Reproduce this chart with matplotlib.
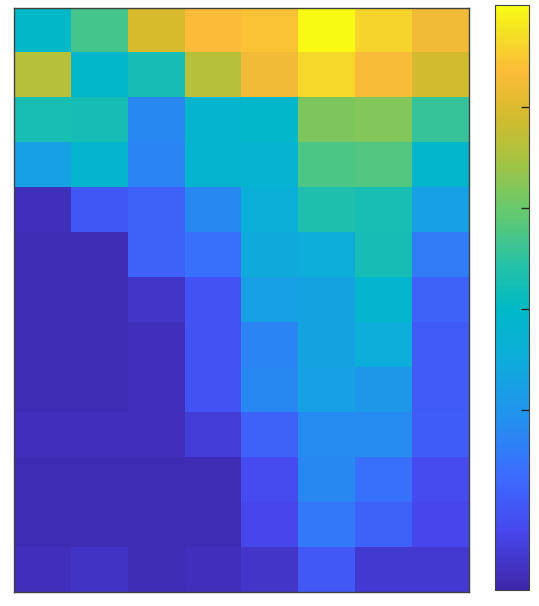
import numpy as np
import matplotlib
matplotlib.use("Agg")
import matplotlib.pyplot as plt
from matplotlib.colors import LinearSegmentedColormap

# cell values, 13 rows (top to bottom) x 8 columns
row_vals = [
    [1.99, 2.69, 3.96, 4.36, 4.42, 5.00, 4.60, 4.25],
    [3.61, 1.94, 2.23, 3.61, 4.25, 4.65, 4.31, 3.90],
    [2.28, 2.23, 0.78, 1.82, 1.94, 3.15, 3.21, 2.57],
    [1.24, 1.82, 0.72, 1.82, 1.76, 2.75, 2.80, 1.88],
    [-0.61, 0.05, 0.20, 0.78, 1.59, 2.34, 2.28, 1.24],
    [-0.66, -0.66, 0.20, 0.43, 1.47, 1.53, 2.23, 0.61],
    [-0.66, -0.66, -0.49, -0.03, 1.24, 1.30, 1.82, 0.20],
    [-0.66, -0.66, -0.61, -0.03, 0.72, 1.30, 1.53, 0.09],
    [-0.66, -0.66, -0.61, -0.03, 0.78, 1.24, 1.07, 0.09],
    [-0.61, -0.61, -0.61, -0.38, 0.20, 0.84, 0.84, 0.14],
    [-0.66, -0.66, -0.66, -0.66, -0.14, 0.78, 0.43, -0.14],
    [-0.66, -0.66, -0.66, -0.66, -0.20, 0.55, 0.20, -0.20],
    [-0.61, -0.55, -0.66, -0.61, -0.49, 0.06, -0.43, -0.43],
]
cbar_ticks = [1, 2, 3, 4]
vmin, vmax = -0.78, 5.0

# rough parula
parula_pts = [
    (0.00, (0.2422, 0.1504, 0.6603)),
    (0.10, (0.2780, 0.2800, 0.9300)),
    (0.20, (0.2300, 0.4300, 0.9950)),
    (0.30, (0.1300, 0.5800, 0.9300)),
    (0.40, (0.0500, 0.6800, 0.8500)),
    (0.48, (0.0000, 0.7250, 0.7800)),
    (0.56, (0.1600, 0.7600, 0.6500)),
    (0.65, (0.4000, 0.7900, 0.4300)),
    (0.75, (0.6900, 0.7600, 0.2400)),
    (0.82, (0.8500, 0.7300, 0.1800)),
    (0.89, (0.9900, 0.7400, 0.2300)),
    (0.95, (0.9600, 0.8700, 0.1500)),
    (1.00, (0.9769, 0.9839, 0.0805)),
]
parula = LinearSegmentedColormap.from_list("parula", parula_pts)

data = np.array(row_vals)

fig = plt.figure(figsize=(5.39, 6.06), dpi=100)
ax = fig.add_axes([0.026, 0.023, 0.844, 0.964])
im = ax.imshow(data, cmap=parula, vmin=vmin, vmax=vmax, aspect="auto",
               interpolation="nearest")
ax.set_xticks([])
ax.set_yticks([])
for s in ax.spines.values():
    s.set_color("#404040")
    s.set_linewidth(1.0)

cax = fig.add_axes([0.918, 0.026, 0.063, 0.965])
cb = fig.colorbar(im, cax=cax, ticks=cbar_ticks)
cb.ax.tick_params(direction="in", length=6, width=1, labelright=False,
                  color="#262626")
cb.outline.set_edgecolor("#404040")
cb.outline.set_linewidth(0.8)

fig.savefig("out.png", dpi=100)
